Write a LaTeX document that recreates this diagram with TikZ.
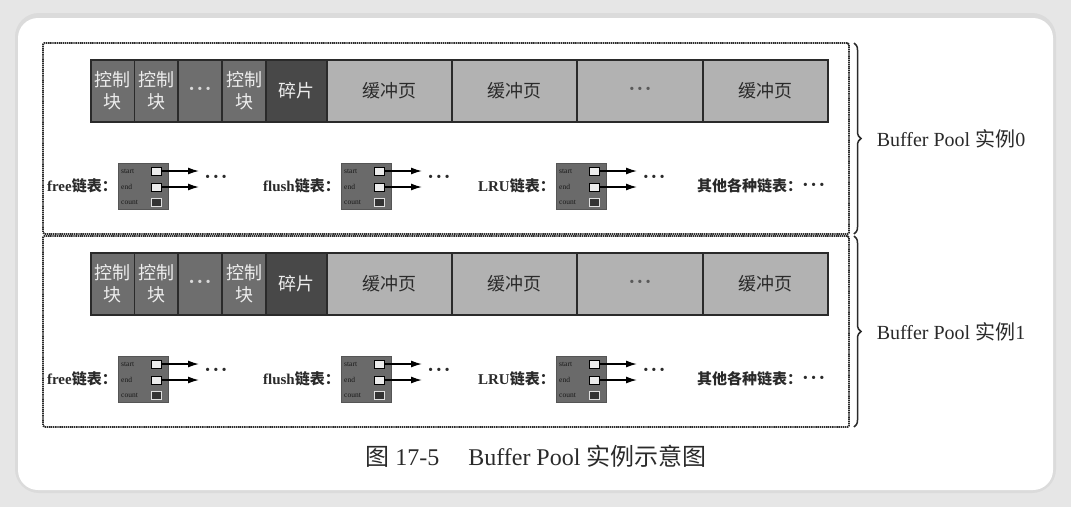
\documentclass[tikz,border=0pt]{standalone}
\usepackage{fontspec}
\setmainfont{Liberation Serif}
\newfontfamily\cjk{Noto Sans CJK SC}
\usetikzlibrary{arrows.meta,positioning,calc,decorations.pathreplacing}
\definecolor{ctrlgray}{HTML}{6E6E6E}
\definecolor{fraggray}{HTML}{484848}
\definecolor{pagegray}{HTML}{B2B2B2}
\definecolor{listgray}{HTML}{6A6A6A}
\definecolor{inkgray}{HTML}{2A2A2A}
\definecolor{celltext}{HTML}{EDEDED}
\definecolor{paperbg}{HTML}{E6E6E6}
\newcommand\zh[1]{{\cjk #1}}
\newcommand\trio{{\rmfamily\bfseries\fontsize{20}{22}\selectfont ·\kern1.5pt·\kern1.5pt·}}

\tikzset{
  pool/.style={draw=inkgray,line width=1.8pt,dash pattern=on 1.4pt off 0.7pt,
    rounded corners=1.5pt,minimum width=806pt,minimum height=191pt,inner sep=0pt,outer sep=0pt},
  cell/.style={draw=inkgray,line width=1.4pt,outer sep=0pt,inner sep=0pt,
    minimum height=62pt,anchor=west,align=center,font=\cjk\fontsize{18}{22}\selectfont},
  lbox/.style={fill=listgray,draw=listgray!80!black,line width=0.4pt,anchor=north west,
    minimum width=50pt,minimum height=46pt,inner sep=0pt},
  port/.style={draw=black,fill=white!85!gray,line width=0.8pt,minimum width=10pt,
    minimum height=8pt,inner sep=0pt},
  cport/.style={port,fill=black!80,draw=white!75!gray},
  tag/.style={anchor=west,inner sep=0pt,text=black!90,font=\fontsize{7.5}{8}\selectfont},
  lab/.style={inner sep=0pt,text=inkgray,font=\bfseries\fontsize{15}{17}\selectfont},
  dots/.style={inner sep=0pt,text=inkgray},
  ptr/.style={-{Latex[length=11pt,width=7pt]},line width=1.4pt,black},
  brace/.style={decorate,decoration={brace,amplitude=7pt},draw=inkgray,line width=1.5pt},
}

\begin{document}
\begin{tikzpicture}[x=1pt,y=-1pt]
  \useasboundingbox (0,0) rectangle (1071,507);
  % fondo y tarjeta
  \fill[paperbg] (0,0) rectangle (1071,507);
  \fill[black!14,rounded corners=24pt] (15,13) rectangle (1056,493);
  \fill[white,rounded corners=20pt] (18,18) rectangle (1053,490);

  \foreach \k/\oy in {0/0,1/193}{
    \begin{scope}[shift={(0,\oy)}]
      % marco de la instancia
      \node[pool] (pool\k) at (446,138.5) {};
      \draw[brace] ([xshift=5pt]pool\k.north east) -- ([xshift=5pt]pool\k.south east)
        node[midway,anchor=west,xshift=22pt,inner sep=0pt,text=inkgray,
          font=\fontsize{20}{22}\selectfont] (name\k) {Buffer Pool \zh{实例}\k};
      % bloques de control, fragmento y paginas
      \foreach \n/\xa/\w/\f/\tc/\t in {
          ca/91/43.5/ctrlgray/celltext/{控制\\块},
          cb/134.5/43.5/ctrlgray/celltext/{控制\\块},
          cd/178/44/ctrlgray/white!70!gray/{\trio},
          cc/222/44/ctrlgray/celltext/{控制\\块},
          sp/266/61/fraggray/celltext/{碎片},
          pa/327/125/pagegray/inkgray/{缓冲页},
          pb/452/125/pagegray/inkgray/{缓冲页},
          pd/577/126/pagegray/black!65/{\trio},
          pc/703/125/pagegray/inkgray/{缓冲页}}
        \node[cell,fill=\f,text=\tc,minimum width=\w pt] (\n\k) at (\xa,91) {\t};
      % listas
      \foreach \n/\xa/\l in {
          fr/118/{free\zh{链表：}},
          fl/341/{flush\zh{链表：}},
          lr/556/{LRU\zh{链表：}}}{
        \node[lbox] (\n\k) at (\xa,163) {};
        \node[port]  (\n\k s) at ($(\n\k.north west)+(38,8)$) {};
        \node[port]  (\n\k e) at ($(\n\k.north west)+(38,24)$) {};
        \node[cport] (\n\k c) at ($(\n\k.north west)+(38,39)$) {};
        \node[tag] at ($(\n\k.north west)+(3,8)$) {start};
        \node[tag] at ($(\n\k.north west)+(3,24)$) {end};
        \node[tag] at ($(\n\k.north west)+(3,39)$) {count};
        \coordinate (\n\k ts) at ($(\n\k s)+(43,0)$);
        \coordinate (\n\k te) at ($(\n\k e)+(43,0)$);
        \draw[ptr] (\n\k s.east) -- (\n\k ts);
        \draw[ptr] (\n\k e.east) -- (\n\k te);
        \node[dots] (\n\k m) at ($(\n\k s)+(60,8)$) {\trio};
        \node[lab,left=1pt of \n\k] (\n\k l) {\l};
      }
      \node[lab,anchor=west] (ot\k) at (697,186) {\zh{其他各种链表：}\trio};
    \end{scope}
  }
  % pie de figura
  \node[inner sep=0pt,text=inkgray,font=\fontsize{24}{27}\selectfont] (cap) at (536,456)
    {\zh{图} 17-5\hspace{1.2em}Buffer Pool \zh{实例示意图}};
\end{tikzpicture}
\end{document}
